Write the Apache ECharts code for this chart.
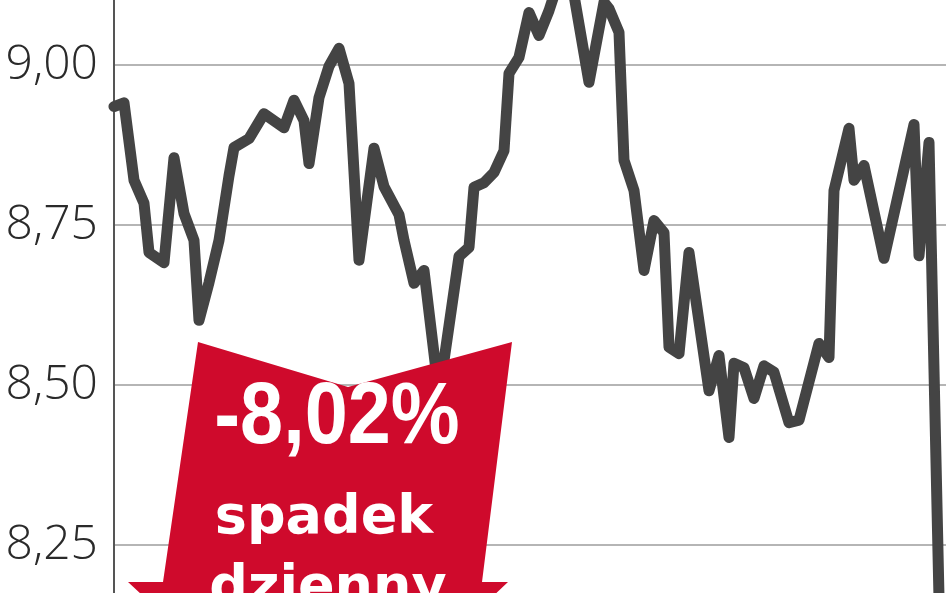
<!DOCTYPE html>
<html>
<head>
<meta charset="utf-8">
<script src="https://cdn.jsdelivr.net/npm/echarts@6/dist/echarts.min.js"></script>
<style>
html,body{margin:0;padding:0;background:#fff;}
#chart{width:948px;height:593px;}
</style>
</head>
<body>
<div id="chart"></div>
<script>
// Session index (trading day) and closing price
const sessions = [0,2,4,6,7,10,12,14,16,17,19,21,23,24,27,30,34,36,38,39,41,43,45,47,49,52,54,57,58,60,62,65,69,71,72,74,76,78,79,81,83,85,87,88,90,92,95,98,99,101,102,104,106,108,110,111,113,115,119,121,123,124,126,128,130,132,135,137,141,143,144,147,148,150,154,160,161,163,165];
const prices = [8.935,8.941,8.820,8.784,8.707,8.691,8.855,8.768,8.726,8.601,8.660,8.726,8.827,8.871,8.885,8.924,8.902,8.945,8.913,8.846,8.949,8.998,9.026,8.971,8.695,8.870,8.810,8.766,8.726,8.659,8.679,8.484,8.701,8.715,8.809,8.816,8.832,8.866,8.987,9.012,9.082,9.046,9.085,9.109,9.124,9.109,8.973,9.098,9.088,9.051,8.851,8.804,8.679,8.757,8.738,8.559,8.549,8.707,8.491,8.546,8.418,8.534,8.527,8.479,8.530,8.520,8.441,8.445,8.565,8.543,8.804,8.901,8.820,8.843,8.698,8.907,8.702,8.879,8.168];
const yTicks = [8.25, 8.50, 8.75, 9.00];
const badgeValue = "-8,02%";
const badgeLine1 = "spadek";
const badgeLine2 = "dzienny";

const chart = echarts.init(document.getElementById('chart'), null, {renderer:'canvas'});
const seriesData = sessions.map((s, i) => [s, prices[i]]);

chart.setOption({
  animation: false,
  backgroundColor: '#ffffff',
  grid: {left: 114, right: 2, top: -95, bottom: -112, containLabel: false, outerBoundsMode: 'none'},
  xAxis: {
    type: 'value', min: 0, max: 166.4,
    show: false
  },
  yAxis: {
    type: 'value', min: 8.0, max: 9.25, interval: 0.25,
    axisLine: {show: true, lineStyle: {color: '#555', width: 2}},
    axisTick: {show: false},
    splitLine: {show: true, lineStyle: {color: '#9c9c9c', width: 1.6}},
    axisLabel: {
      margin: 16,
      fontFamily: 'Open Sans',
      fontWeight: 300,
      fontSize: 48,
      color: '#2a2a2a',
      formatter: v => yTicks.some(t => Math.abs(t - v) < 1e-6) ? v.toFixed(2).replace('.', ',') : ''
    }
  },
  series: [{
    type: 'line',
    data: seriesData,
    symbol: 'none',
    smooth: false,
    lineStyle: {color: '#444444', width: 11, cap: 'round', join: 'round'},
    z: 2
  }],
  graphic: [
    {
      type: 'polygon', z: 100,
      shape: {points: [[198,342],[348,387],[512,342],[482,582],[508,582],[320,760],[128,582],[163,582]]},
      style: {fill: '#cf0a2c'}
    },
    {
      type: 'text', z: 101, x: 337, y: 463, scaleX: 0.88, scaleY: 1,
      style: {text: badgeValue, fill: '#fff', font: 'bold 88px "Liberation Sans"', textAlign: 'center', textVerticalAlign: 'bottom'}
    },
    {
      type: 'text', z: 101, x: 324, y: 546,
      style: {text: badgeLine1, fill: '#fff', font: 'bold 54px "DejaVu Sans"', textAlign: 'center', textVerticalAlign: 'bottom'}
    },
    {
      type: 'text', z: 101, x: 328, y: 616,
      style: {text: badgeLine2, fill: '#fff', font: 'bold 54px "DejaVu Sans"', textAlign: 'center', textVerticalAlign: 'bottom'}
    }
  ]
});
</script>
</body>
</html>
